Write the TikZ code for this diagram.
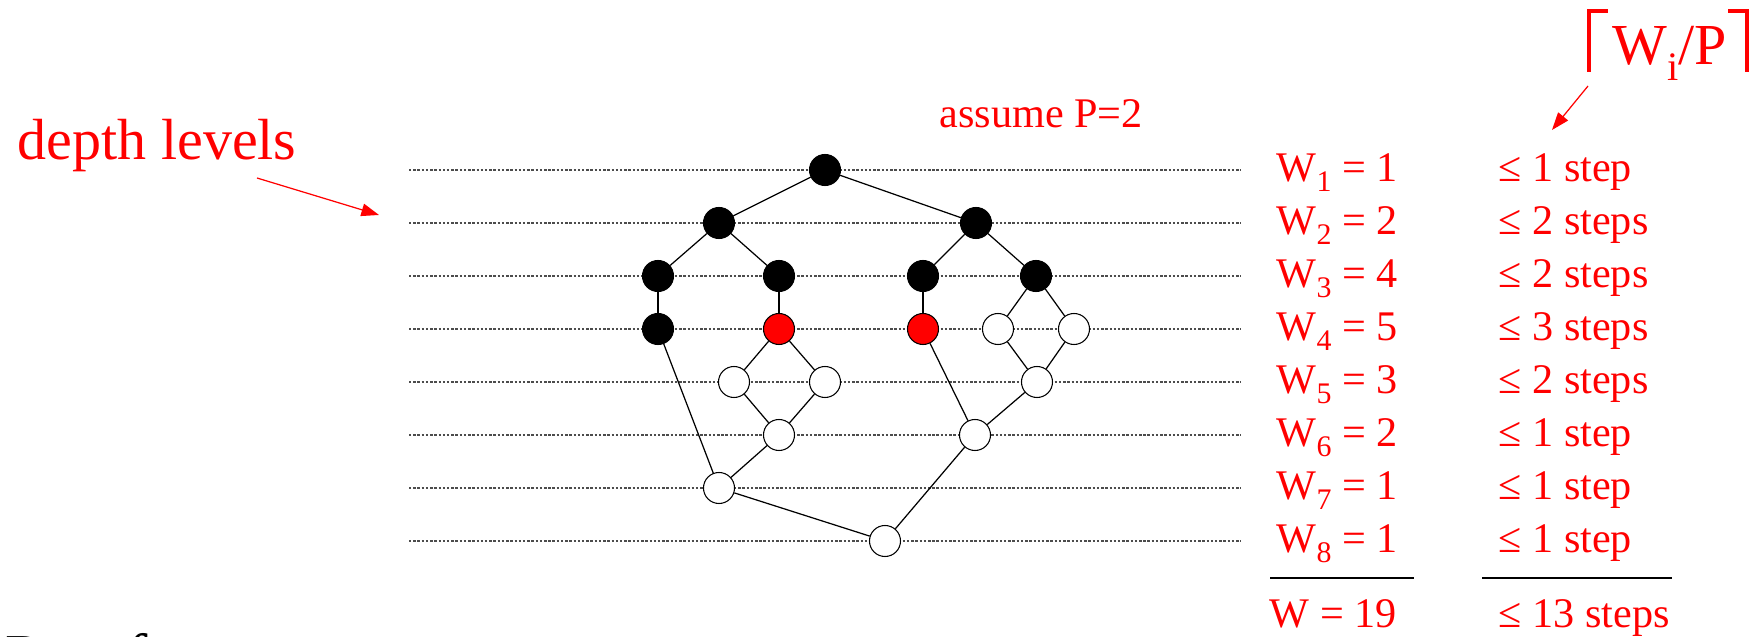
\documentclass[tikz,border=0pt]{standalone}
\usepackage{fontspec}
\setmainfont{Liberation Serif}
\usepackage{tikz}
\usetikzlibrary{arrows.meta}
\newcommand{\lsub}[1]{\raisebox{-2.8pt}{\fontsize{8.5pt}{9pt}\selectfont #1}}

\begin{document}
\begin{tikzpicture}[x=0.01cm,y=-0.01cm,every node/.style={font=\fontsize{12pt}{14pt}\selectfont,text=red,inner sep=0pt,anchor=base west},
  job/.style={circle,draw=black,line width=0.3pt,minimum size=0.31cm,inner sep=0pt,anchor=center},
  done/.style={job,fill=black},ready/.style={job,fill=red},todo/.style={job,fill=white},
  level/.style={black!70,line width=0.35pt,dash pattern=on 0.7pt off 0.5pt},
  edge/.style={black,line width=0.35pt},
  note/.style={red,line width=0.35pt,-{Triangle[length=5pt,width=3.6pt]}}]
\useasboundingbox (0,0) rectangle (1756,637);

\foreach \i in {0,...,7} \draw[level] (409,170+53*\i) -- (1241,170+53*\i);

\node[done] (n1) at (825,170) {};
\node[done] (n2a) at (719,223) {};
\node[done] (n2b) at (976,223) {};
\node[done] (n3a) at (658,276) {};
\node[done] (n3b) at (779,276) {};
\node[done] (n3c) at (923,276) {};
\node[done] (n3d) at (1036,276) {};
\node[done] (n4a) at (658,329) {};
\node[ready] (n4b) at (779,329) {};
\node[ready] (n4c) at (923,329) {};
\node[todo] (n4d) at (998,329) {};
\node[todo] (n4e) at (1074,329) {};
\node[todo] (n5a) at (734,382) {};
\node[todo] (n5b) at (825,382) {};
\node[todo] (n5c) at (1037,382) {};
\node[todo] (n6a) at (779,435) {};
\node[todo] (n6b) at (975,435) {};
\node[todo] (n7) at (719,488) {};
\node[todo] (n8) at (885,541) {};

\foreach \a/\b in {n1/n2a,n1/n2b,n2a/n3a,n2a/n3b,n2b/n3c,n2b/n3d,n3a/n4a,n3b/n4b,n3c/n4c,n3d/n4d,n3d/n4e,n4a/n7,n4b/n5a,n4b/n5b,n4c/n6b,n4d/n5c,n4e/n5c,n5a/n6a,n5b/n6a,n5c/n6b,n6a/n7,n6b/n8,n7/n8}
  \draw[edge] (\a) -- (\b);

\node[font=\fontsize{16.5pt}{18pt}\selectfont] (depth) at (17,160) {depth levels};
\coordinate (depthtail) at (257,178);
\coordinate (depthtip) at (379,215);
\draw[note] (depthtail) -- (depthtip);

\node (assume) at (939,128) {assume P=2};

\foreach \k/\w/\s in {1/1/1 step,2/2/2 steps,3/4/2 steps,4/5/3 steps,5/3/2 steps,6/2/1 step,7/1/1 step,8/1/1 step} {
  \node (w\k) at (1276,129+53*\k) {W\lsub{\k} = \w};
  \node (s\k) at (1498,129+53*\k) {≤ \s};
}
\draw[black,line width=0.45pt] (1270,578) -- (1414,578) (1482,578) -- (1672,578);
\node (wsum) at (1269,628) {W = 19};
\node (ssum) at (1498,628) {≤ 13 steps};

\node[font=\fontsize{16.5pt}{18pt}\selectfont] (ceil) at (1612,65) {W\raisebox{-4.5pt}{\fontsize{11.5pt}{12pt}\selectfont i}/P};
\draw[red,line width=0.9pt] (1589,72) |- (1608,11) (1728,11) -| (1747,72);
\coordinate (ceiltail) at (1588,86);
\coordinate (ceiltip) at (1552,130);
\draw[note] (ceiltail) -- (ceiltip);

\node[text=black,font=\fontsize{18.2pt}{20pt}\selectfont] (proof) at (5,679) {Proof};
\end{tikzpicture}
\end{document}
